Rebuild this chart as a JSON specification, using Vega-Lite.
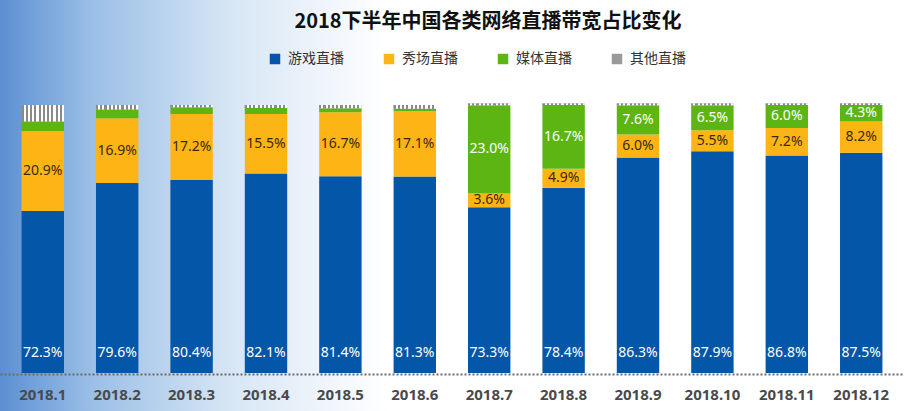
{
  "$schema": "https://vega.github.io/schema/vega-lite/v6.json",
  "width": 924,
  "height": 411,
  "autosize": {"type": "none"},
  "padding": 0,
  "background": "#ffffff",
  "title": {
    "text": "2018下半年中国各类网络直播带宽占比变化",
    "fontSize": 20,
    "fontWeight": "bold",
    "font": "Noto Sans CJK SC",
    "color": "#111111",
    "anchor": "middle",
    "frame": "group",
    "offset": -32,
    "dx": 26
  },
  "config": {
    "view": {
      "stroke": null,
      "fill": {
        "gradient": "linear",
        "x1": 0, "y1": 0, "x2": 1, "y2": 0,
        "stops": [
          {"offset": 0, "color": "#5b8fd2"},
          {"offset": 0.1, "color": "#9bbfe6"},
          {"offset": 0.25, "color": "#d7e6f5"},
          {"offset": 0.42, "color": "#ffffff"},
          {"offset": 1, "color": "#ffffff"}
        ]
      }
    },
    "font": "Noto Sans CJK SC"
  },
  "data": {
    "values": [
      {"month": "2018.1", "cat": "游戏直播", "value": 72.3},
      {"month": "2018.1", "cat": "秀场直播", "value": 20.9},
      {"month": "2018.1", "cat": "媒体直播", "value": 2.5},
      {"month": "2018.1", "cat": "其他直播", "value": 4.3},
      {"month": "2018.2", "cat": "游戏直播", "value": 79.6},
      {"month": "2018.2", "cat": "秀场直播", "value": 16.9},
      {"month": "2018.2", "cat": "媒体直播", "value": 2.3},
      {"month": "2018.2", "cat": "其他直播", "value": 1.2},
      {"month": "2018.3", "cat": "游戏直播", "value": 80.4},
      {"month": "2018.3", "cat": "秀场直播", "value": 17.2},
      {"month": "2018.3", "cat": "媒体直播", "value": 1.8},
      {"month": "2018.3", "cat": "其他直播", "value": 0.6},
      {"month": "2018.4", "cat": "游戏直播", "value": 82.1},
      {"month": "2018.4", "cat": "秀场直播", "value": 15.5},
      {"month": "2018.4", "cat": "媒体直播", "value": 1.6},
      {"month": "2018.4", "cat": "其他直播", "value": 0.8},
      {"month": "2018.5", "cat": "游戏直播", "value": 81.4},
      {"month": "2018.5", "cat": "秀场直播", "value": 16.7},
      {"month": "2018.5", "cat": "媒体直播", "value": 1.0},
      {"month": "2018.5", "cat": "其他直播", "value": 0.9},
      {"month": "2018.6", "cat": "游戏直播", "value": 81.3},
      {"month": "2018.6", "cat": "秀场直播", "value": 17.1},
      {"month": "2018.6", "cat": "媒体直播", "value": 0.6},
      {"month": "2018.6", "cat": "其他直播", "value": 1.0},
      {"month": "2018.7", "cat": "游戏直播", "value": 73.3},
      {"month": "2018.7", "cat": "秀场直播", "value": 3.6},
      {"month": "2018.7", "cat": "媒体直播", "value": 23.0},
      {"month": "2018.7", "cat": "其他直播", "value": 0.5},
      {"month": "2018.8", "cat": "游戏直播", "value": 78.4},
      {"month": "2018.8", "cat": "秀场直播", "value": 4.9},
      {"month": "2018.8", "cat": "媒体直播", "value": 16.7},
      {"month": "2018.8", "cat": "其他直播", "value": 0.4},
      {"month": "2018.9", "cat": "游戏直播", "value": 86.3},
      {"month": "2018.9", "cat": "秀场直播", "value": 6.0},
      {"month": "2018.9", "cat": "媒体直播", "value": 7.6},
      {"month": "2018.9", "cat": "其他直播", "value": 0.5},
      {"month": "2018.10", "cat": "游戏直播", "value": 87.9},
      {"month": "2018.10", "cat": "秀场直播", "value": 5.5},
      {"month": "2018.10", "cat": "媒体直播", "value": 6.5},
      {"month": "2018.10", "cat": "其他直播", "value": 0.5},
      {"month": "2018.11", "cat": "游戏直播", "value": 86.8},
      {"month": "2018.11", "cat": "秀场直播", "value": 7.2},
      {"month": "2018.11", "cat": "媒体直播", "value": 6.0},
      {"month": "2018.11", "cat": "其他直播", "value": 0.4},
      {"month": "2018.12", "cat": "游戏直播", "value": 87.5},
      {"month": "2018.12", "cat": "秀场直播", "value": 8.2},
      {"month": "2018.12", "cat": "媒体直播", "value": 4.3},
      {"month": "2018.12", "cat": "其他直播", "value": 0.4}
    ]
  },
  "transform": [
    {"calculate": "indexof(['游戏直播','秀场直播','媒体直播','其他直播'], datum.cat)", "as": "k"},
    {"stack": "value", "groupby": ["month"], "sort": [{"field": "k", "order": "ascending"}], "as": ["v0", "v1"]},
    {"calculate": "(datum.v0 + datum.v1) / 2", "as": "vm"},
    {"calculate": "format(datum.value, '.1f') + '%'", "as": "label"}
  ],
  "encoding": {
    "x": {
      "field": "month",
      "type": "nominal",
      "sort": null,
      "scale": {"range": [0, 904], "paddingInner": 0.43, "paddingOuter": 0.29},
      "axis": {
        "title": null,
        "orient": "bottom",
        "offset": -37,
        "labelAngle": 0,
        "labelFont": "Noto Sans",
        "labelFontSize": 15,
        "labelFontWeight": "bold",
        "labelColor": "#4a4a4a",
        "labelPadding": 13,
        "ticks": false,
        "domainColor": "#6b6b6b",
        "domainWidth": 2,
        "domainDash": [2, 2]
      }
    }
  },
  "layer": [
    {
      "mark": {"type": "bar"},
      "encoding": {
        "y": {"field": "v1", "type": "quantitative", "axis": null, "scale": {"domain": [30, 100.5], "range": [373, 103], "clamp": true}},
        "y2": {"field": "v0"},
        "color": {
          "field": "cat",
          "type": "nominal",
          "sort": ["游戏直播", "秀场直播", "媒体直播", "其他直播"],
          "scale": {"domain": ["游戏直播", "秀场直播", "媒体直播", "其他直播"], "range": ["#0457a8", "#fdb515", "#5cb512", "#9a9a9a"]},
          "legend": {
            "title": null,
            "orient": "none",
            "legendX": 268,
            "legendY": 52,
            "direction": "horizontal",
            "symbolType": "square",
            "symbolSize": 110,
            "symbolStrokeWidth": 0,
            "labelFontSize": 14,
            "labelColor": "#333333",
            "labelFont": "Noto Sans CJK SC",
            "columnPadding": 38,
            "labelOffset": 6
          }
        }
      }
    },
    {
      "transform": [{"filter": "datum.k === 3"}],
      "mark": {
        "type": "bar",
        "color": {
          "gradient": "linear",
          "x1": 0, "y1": 0, "x2": 1, "y2": 0,
          "stops": [
            {"offset": 0, "color": "#8a8a8a"}, {"offset": 0.05, "color": "#8a8a8a"},
            {"offset": 0.05, "color": "#ffffff"}, {"offset": 0.1, "color": "#ffffff"},
            {"offset": 0.1, "color": "#8a8a8a"}, {"offset": 0.15, "color": "#8a8a8a"},
            {"offset": 0.15, "color": "#ffffff"}, {"offset": 0.2, "color": "#ffffff"},
            {"offset": 0.2, "color": "#8a8a8a"}, {"offset": 0.25, "color": "#8a8a8a"},
            {"offset": 0.25, "color": "#ffffff"}, {"offset": 0.3, "color": "#ffffff"},
            {"offset": 0.3, "color": "#8a8a8a"}, {"offset": 0.35, "color": "#8a8a8a"},
            {"offset": 0.35, "color": "#ffffff"}, {"offset": 0.4, "color": "#ffffff"},
            {"offset": 0.4, "color": "#8a8a8a"}, {"offset": 0.45, "color": "#8a8a8a"},
            {"offset": 0.45, "color": "#ffffff"}, {"offset": 0.5, "color": "#ffffff"},
            {"offset": 0.5, "color": "#8a8a8a"}, {"offset": 0.55, "color": "#8a8a8a"},
            {"offset": 0.55, "color": "#ffffff"}, {"offset": 0.6, "color": "#ffffff"},
            {"offset": 0.6, "color": "#8a8a8a"}, {"offset": 0.65, "color": "#8a8a8a"},
            {"offset": 0.65, "color": "#ffffff"}, {"offset": 0.7, "color": "#ffffff"},
            {"offset": 0.7, "color": "#8a8a8a"}, {"offset": 0.75, "color": "#8a8a8a"},
            {"offset": 0.75, "color": "#ffffff"}, {"offset": 0.8, "color": "#ffffff"},
            {"offset": 0.8, "color": "#8a8a8a"}, {"offset": 0.85, "color": "#8a8a8a"},
            {"offset": 0.85, "color": "#ffffff"}, {"offset": 0.9, "color": "#ffffff"},
            {"offset": 0.9, "color": "#8a8a8a"}, {"offset": 0.95, "color": "#8a8a8a"},
            {"offset": 0.95, "color": "#ffffff"}, {"offset": 1, "color": "#ffffff"}
          ]
        }
      },
      "encoding": {
        "y": {"field": "v1", "type": "quantitative", "axis": null, "scale": {"domain": [30, 100.5], "range": [373, 103], "clamp": true}},
        "y2": {"field": "v0"}
      }
    },
    {
      "transform": [{"filter": "datum.k === 0"}],
      "mark": {"type": "text", "dy": -20, "fontSize": 14, "font": "Noto Sans", "color": "#ffffff"},
      "encoding": {
        "y": {"field": "v0", "type": "quantitative", "axis": null, "scale": {"domain": [30, 100.5], "range": [373, 103], "clamp": true}},
        "text": {"field": "label"}
      }
    },
    {
      "transform": [{"filter": "datum.k === 1"}],
      "mark": {"type": "text", "fontSize": 14, "font": "Noto Sans", "color": "#3a2800"},
      "encoding": {
        "y": {"field": "vm", "type": "quantitative", "axis": null, "scale": {"domain": [30, 100.5], "range": [373, 103], "clamp": true}},
        "text": {"field": "label"}
      }
    },
    {
      "transform": [{"filter": "datum.k === 2 && datum.value >= 4"}],
      "mark": {"type": "text", "fontSize": 14, "font": "Noto Sans", "color": "#ffffff"},
      "encoding": {
        "y": {"field": "vm", "type": "quantitative", "axis": null, "scale": {"domain": [30, 100.5], "range": [373, 103], "clamp": true}},
        "text": {"field": "label"}
      }
    }
  ]
}
